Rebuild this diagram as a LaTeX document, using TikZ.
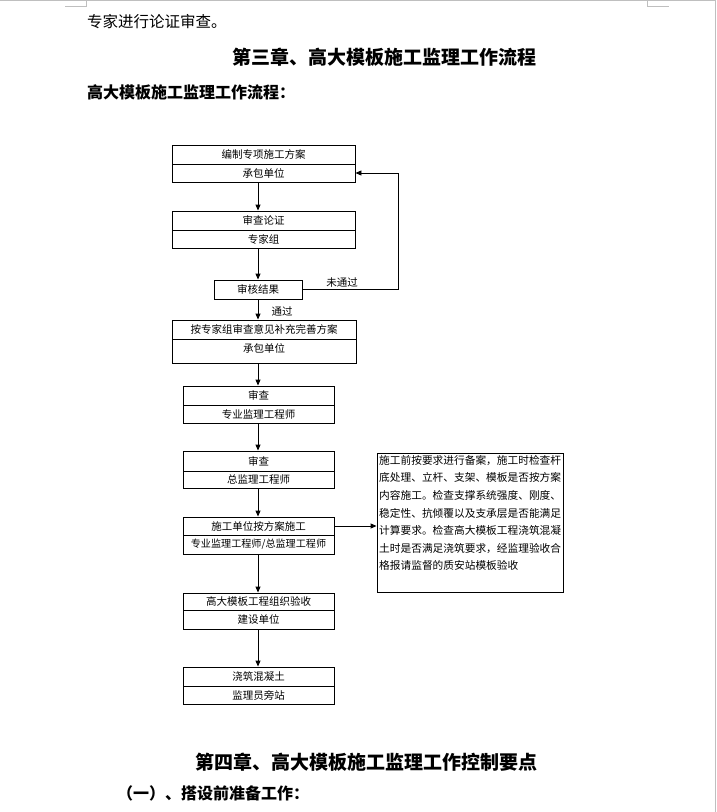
\documentclass[tikz,border=0pt]{standalone}
\usepackage{fontspec}
\setmainfont{Noto Sans CJK SC}
\usetikzlibrary{arrows.meta}
\tikzset{
  half/.style={draw, line width=0.9pt, inner sep=0pt, font=\fontsize{10.5}{12}\selectfont},
  arr/.style={line width=0.9pt, -{Triangle[length=6pt,width=5pt]}},
  lbl/.style={inner sep=0pt, font=\fontsize{10.5}{12}\selectfont},
  pagemark/.style={draw=black!25, line width=0.8pt},
}
\begin{document}
\begin{tikzpicture}[x=1pt,y=-1pt]
\useasboundingbox (0,0) rectangle (716,812);
% page decorations
\draw[pagemark] (0,0.5) -- (716,0.5);
\draw[pagemark] (715,0) -- (715,812);
\draw[pagemark] (65,6) -- (86,6) -- (86,0);
\draw[pagemark] (647,0) -- (647,6) -- (669,6);
% page texts
\node[anchor=west, inner sep=0pt, font=\fontsize{15.5}{18}\selectfont] (t1) at (87,22) {专家进行论证审查。};
\node[inner sep=0pt, font=\bfseries\fontsize{19}{22}\selectfont] (t2) at (384,57) {第三章、高大模板施工监理工作流程};
\node[anchor=west, inner sep=0pt, font=\bfseries\fontsize{16}{19}\selectfont] (t3) at (87,92) {高大模板施工监理工作流程：};
\node[inner sep=0pt, font=\bfseries\fontsize{19}{22}\selectfont] (t4) at (366.5,762) {第四章、高大模板施工监理工作控制要点};
\node[anchor=west, inner sep=0pt, font=\bfseries\fontsize{16}{19}\selectfont] (t5) at (117,793) {（一）、搭设前准备工作：};
% axis for arrows
\coordinate (ax) at (258,0);
% boxes
\node[half, minimum width=183pt, minimum height=19pt] (b1t) at (263.5,154.5) {编制专项施工方案};
\node[half, minimum width=183pt, minimum height=18pt] (b1b) at (263.5,173) {承包单位};
\node[half, minimum width=183pt, minimum height=19pt] (b2t) at (263.5,220.5) {审查论证};
\node[half, minimum width=183pt, minimum height=18pt] (b2b) at (263.5,239) {专家组};
\node[half, minimum width=88pt, minimum height=19pt] (b3) at (258,289.5) {审核结果};
\node[half, minimum width=184pt, minimum height=19pt] (b4t) at (264,329.5) {按专家组审查意见补充完善方案};
\node[half, minimum width=184pt, minimum height=24pt] (b4b) at (264,351) {};
\node[lbl] (b4l) at (264,348) {承包单位};
\node[half, minimum width=151pt, minimum height=19pt] (b5t) at (258.5,395.5) {审查};
\node[half, minimum width=151pt, minimum height=18pt] (b5b) at (258.5,414) {专业监理工程师};
\node[half, minimum width=151pt, minimum height=20pt] (b6t) at (258.5,461) {审查};
\node[half, minimum width=151pt, minimum height=17pt] (b6b) at (258.5,479.5) {总监理工程师};
\node[half, minimum width=151pt, minimum height=18pt] (b7t) at (258.5,526) {施工单位按方案施工};
\node[half, minimum width=151pt, minimum height=19pt, font=\fontsize{10.1}{12}\selectfont] (b7b) at (258.5,544.5) {专业监理工程师/总监理工程师};
\node[half, minimum width=151pt, minimum height=17pt] (b8t) at (258.5,601.5) {高大模板工程组织验收};
\node[half, minimum width=151pt, minimum height=19pt] (b8b) at (258.5,619.5) {建设单位};
\node[half, minimum width=151pt, minimum height=19pt] (b9t) at (258.5,676.5) {浇筑混凝土};
\node[half, minimum width=151pt, minimum height=18pt] (b9b) at (258.5,695) {监理员旁站};
% note box
\node[draw, line width=0.9pt, minimum width=186pt, minimum height=139pt, inner sep=0pt] (note) at (470,522.5) {};
\node[anchor=north west, inner sep=0pt, align=left, font=\fontsize{10.7}{17.6}\selectfont] (notetext) at (379,455)
 {施工前按要求进行备案，施工时检查杆\\底处理、立杆、支架、模板是否按方案\\内容施工。检查支撑系统强度、刚度、\\稳定性、抗倾覆以及支承层是否能满足\\计算要求。检查高大模板工程浇筑混凝\\土时是否满足浇筑要求，经监理验收合\\格报请监督的质安站模板验收};
% arrows
\draw[arr] (b1b.south -| ax) -- (b2t.north -| ax);
\draw[arr] (b2b.south -| ax) -- (b3.north -| ax);
\draw[arr] (b3.south -| ax) -- (b4t.north -| ax);
\draw[arr] (b4b.south -| ax) -- (b5t.north -| ax);
\draw[arr] (b5b.south -| ax) -- (b6t.north -| ax);
\draw[arr] (b6b.south -| ax) -- (b7t.north -| ax);
\draw[arr] (b7b.south -| ax) -- (b8t.north -| ax);
\draw[arr] (b8b.south -| ax) -- (b9t.north -| ax);
\coordinate (fb) at (398,289.5);
\draw[arr] (b3.east) -- (fb) |- (b1b.east);
\draw[arr] (b7t.east) -- (note.west |- b7t.east);
% labels
\node[lbl] (nopass) at (342,283) {未通过};
\node[lbl] (pass) at (282,311) {通过};
\end{tikzpicture}
\end{document}
